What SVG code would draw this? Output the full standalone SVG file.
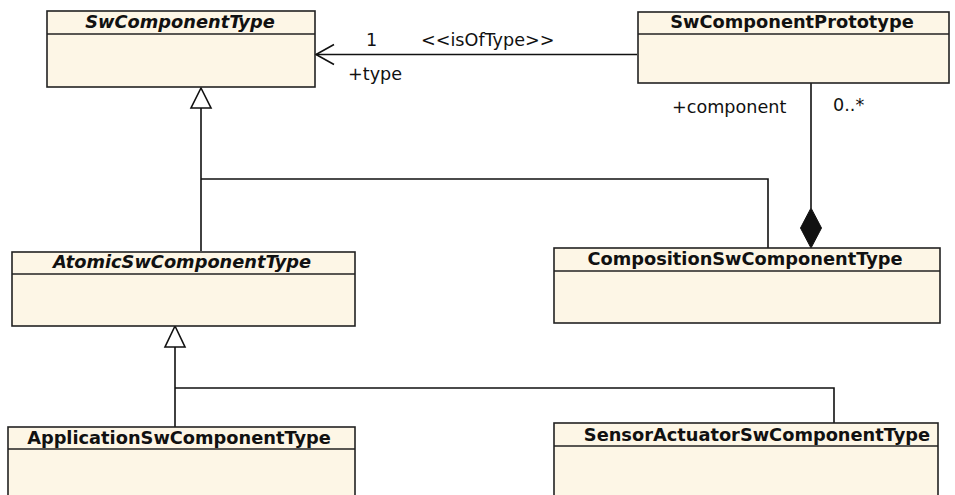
<svg xmlns="http://www.w3.org/2000/svg" width="955" height="495" viewBox="0 0 955 495">
<style>
.box{fill:#fdf6e6;stroke:#222;stroke-width:1.6}
.div{stroke:#222;stroke-width:1.4}
.hdr{font-family:"DejaVu Sans",sans-serif;font-weight:bold;font-size:17.8px;fill:#111;text-anchor:middle}
.it{font-style:oblique}
.lbl{font-family:"DejaVu Sans",sans-serif;font-size:17.6px;fill:#111}
.ln{fill:none;stroke:#111;stroke-width:1.6}
</style>
<g id="connectors">
<line class="ln" x1="637" y1="54.5" x2="316" y2="54.5"/>
<polyline class="ln" points="334,44.5 316,54.5 334,64.5"/>
<line class="ln" x1="811" y1="83" x2="811" y2="208"/>
<polygon points="811,208 821.5,228 811,248 800.5,228" fill="#111" stroke="#111" stroke-width="1"/>
<polygon points="201,88 211,108 191,108" fill="#fff" stroke="#111" stroke-width="1.6"/>
<polyline class="ln" points="201,108 201,251"/>
<polyline class="ln" points="201,179 768,179 768,248"/>
<polygon points="175,326 185,347 165,347" fill="#fff" stroke="#111" stroke-width="1.6"/>
<polyline class="ln" points="175,347 175,427"/>
<polyline class="ln" points="175,388 834,388 834,423"/>
<text class="lbl" x="366" y="46">1</text>
<text class="lbl" x="421" y="46">&lt;&lt;isOfType&gt;&gt;</text>
<text class="lbl" x="348" y="80">+type</text>
<text class="lbl" x="672" y="113">+component</text>
<text class="lbl" x="833" y="111">0..*</text>
</g>
<g id="SwComponentType">
<rect class="box" x="47" y="11" width="268" height="76"/>
<line class="div" x1="47" y1="34" x2="315" y2="34"/>
<text class="hdr it" x="180" y="28">SwComponentType</text>
</g>
<g id="SwComponentPrototype">
<rect class="box" x="638" y="12" width="311" height="71"/>
<line class="div" x1="638" y1="34" x2="949" y2="34"/>
<text class="hdr" x="792" y="28">SwComponentPrototype</text>
</g>
<g id="AtomicSwComponentType">
<rect class="box" x="12" y="252" width="343" height="74"/>
<line class="div" x1="12" y1="274" x2="355" y2="274"/>
<text class="hdr it" x="182" y="268">AtomicSwComponentType</text>
</g>
<g id="CompositionSwComponentType">
<rect class="box" x="554" y="248" width="386" height="75"/>
<line class="div" x1="554" y1="271" x2="940" y2="271"/>
<text class="hdr" x="745" y="265">CompositionSwComponentType</text>
</g>
<g id="ApplicationSwComponentType">
<rect class="box" x="8" y="427" width="347" height="80"/>
<line class="div" x1="8" y1="449" x2="355" y2="449"/>
<text class="hdr" x="179" y="444">ApplicationSwComponentType</text>
</g>
<g id="SensorActuatorSwComponentType">
<rect class="box" x="554" y="423" width="384" height="84"/>
<line class="div" x1="554" y1="446" x2="938" y2="446"/>
<text class="hdr" x="757" y="441">SensorActuatorSwComponentType</text>
</g>
</svg>
